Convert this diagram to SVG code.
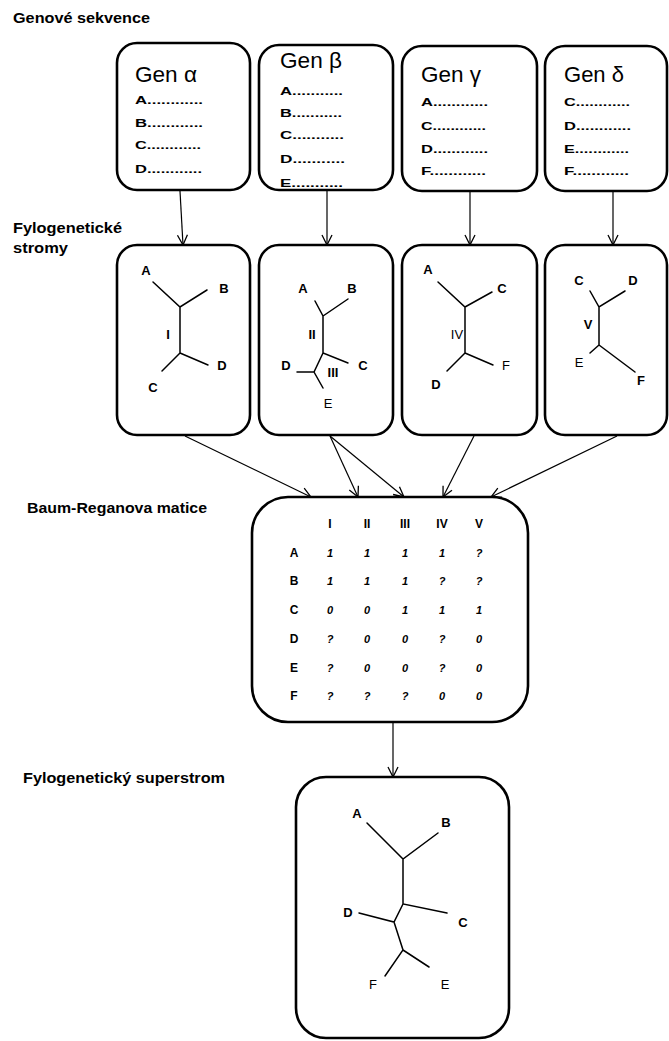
<svg xmlns="http://www.w3.org/2000/svg" width="669" height="1041" viewBox="0 0 669 1041">
  <defs>
    <marker id="arr" viewBox="-1 -6 12 12" markerWidth="12" markerHeight="12" refX="10" refY="0" orient="auto" markerUnits="userSpaceOnUse">
      <path d="M0,-5 L10,0 L0,5" fill="none" stroke="#000" stroke-width="1.3"/>
    </marker>
  </defs>
  <style>
    text { font-family: "Liberation Sans", Arial, sans-serif; fill: #000; }
    .box { fill: #fff; stroke: #000; stroke-width: 2.6; }
    .head { font-size: 15px; font-weight: bold; }
    .gen { font-size: 22px; }
    .item { font-size: 11px; font-weight: bold; }
    .tree { fill: none; stroke: #000; stroke-width: 1.5; stroke-linecap: round; }
    .lb { font-size: 13px; font-weight: bold; text-anchor: middle; }
    .lr { font-size: 13px; text-anchor: middle; }
    .mh { font-size: 12px; font-weight: bold; text-anchor: middle; }
    .mv { font-family: "DejaVu Sans", sans-serif; font-size: 11px; font-weight: bold; font-style: italic; text-anchor: middle; }
    .conn line { stroke: #000; stroke-width: 1.2; marker-end: url(#arr); }
  </style>

  <rect width="669" height="1041" fill="#fff"/>

  <!-- section headings -->
  <g id="headings">
    <text class="head" x="13" y="23" textLength="137" lengthAdjust="spacingAndGlyphs">Genové sekvence</text>
    <text class="head" x="13" y="233" textLength="109" lengthAdjust="spacingAndGlyphs">Fylogenetické</text>
    <text class="head" x="13" y="253" textLength="55" lengthAdjust="spacingAndGlyphs">stromy</text>
    <text class="head" x="27" y="513" textLength="180" lengthAdjust="spacingAndGlyphs">Baum-Reganova matice</text>
    <text class="head" x="23" y="783" textLength="202" lengthAdjust="spacingAndGlyphs">Fylogenetický superstrom</text>
  </g>

  <!-- connectors -->
  <g id="connectors" class="conn">
    <line x1="180" y1="191" x2="183" y2="245"/>
    <line x1="327" y1="191" x2="327" y2="245"/>
    <line x1="470" y1="191" x2="470" y2="245"/>
    <line x1="613" y1="191" x2="613" y2="245"/>
    <line x1="185" y1="436" x2="311" y2="497"/>
    <line x1="330" y1="436" x2="358" y2="497"/>
    <line x1="330" y1="436" x2="404" y2="497"/>
    <line x1="474" y1="436" x2="443" y2="497"/>
    <line x1="617" y1="436" x2="491" y2="497"/>
    <line x1="393" y1="723" x2="393" y2="777"/>
  </g>

  <!-- gene sequence boxes -->
  <g id="gen-alpha">
    <rect class="box" x="117" y="43" width="133" height="147" rx="20"/>
    <text class="gen" x="135" y="82" textLength="62" lengthAdjust="spacingAndGlyphs">Gen α</text>
    <text class="item" x="135" y="104" textLength="68" lengthAdjust="spacingAndGlyphs">A............</text>
    <text class="item" x="135" y="127" textLength="68" lengthAdjust="spacingAndGlyphs">B............</text>
    <text class="item" x="135" y="149" textLength="66" lengthAdjust="spacingAndGlyphs">C............</text>
    <text class="item" x="135" y="173" textLength="67" lengthAdjust="spacingAndGlyphs">D............</text>
  </g>
  <g id="gen-beta">
    <rect class="box" x="259" y="45" width="134" height="145" rx="20"/>
    <text class="gen" x="280" y="68" textLength="62" lengthAdjust="spacingAndGlyphs">Gen β</text>
    <text class="item" x="280" y="95" textLength="63" lengthAdjust="spacingAndGlyphs">A...........</text>
    <text class="item" x="280" y="117" textLength="62" lengthAdjust="spacingAndGlyphs">B...........</text>
    <text class="item" x="280" y="139" textLength="64" lengthAdjust="spacingAndGlyphs">C...........</text>
    <text class="item" x="280" y="163" textLength="65" lengthAdjust="spacingAndGlyphs">D...........</text>
    <text class="item" x="280" y="187" textLength="63" lengthAdjust="spacingAndGlyphs">E...........</text>
  </g>
  <g id="gen-gamma">
    <rect class="box" x="402" y="46" width="135" height="145" rx="20"/>
    <text class="gen" x="421" y="82" textLength="60" lengthAdjust="spacingAndGlyphs">Gen γ</text>
    <text class="item" x="421" y="106" textLength="67" lengthAdjust="spacingAndGlyphs">A............</text>
    <text class="item" x="421" y="130" textLength="65" lengthAdjust="spacingAndGlyphs">C............</text>
    <text class="item" x="421" y="153" textLength="67" lengthAdjust="spacingAndGlyphs">D............</text>
    <text class="item" x="421" y="175" textLength="65" lengthAdjust="spacingAndGlyphs">F............</text>
  </g>
  <g id="gen-delta">
    <rect class="box" x="545" y="46" width="122" height="145" rx="20"/>
    <text class="gen" x="564" y="82" textLength="60" lengthAdjust="spacingAndGlyphs">Gen δ</text>
    <text class="item" x="564" y="106" textLength="66" lengthAdjust="spacingAndGlyphs">C............</text>
    <text class="item" x="564" y="130" textLength="67" lengthAdjust="spacingAndGlyphs">D............</text>
    <text class="item" x="564" y="153" textLength="65" lengthAdjust="spacingAndGlyphs">E............</text>
    <text class="item" x="564" y="175" textLength="65" lengthAdjust="spacingAndGlyphs">F............</text>
  </g>

  <!-- per-gene trees -->
  <g id="tree-alpha">
    <rect class="box" x="117" y="245" width="133" height="190" rx="20"/>
    <path class="tree" d="M153,282 L180,307 L207,290 M180,307 L180,353 L162,371 M180,353 L208,365"/>
    <text class="lb" x="146" y="275">A</text>
    <text class="lb" x="224" y="293">B</text>
    <text class="lb" x="168" y="339">I</text>
    <text class="lb" x="153" y="392">C</text>
    <text class="lb" x="222" y="370">D</text>
  </g>
  <g id="tree-beta">
    <rect class="box" x="259" y="245" width="134" height="190" rx="20"/>
    <path class="tree" d="M315,301 L323,316 L348,299 M323,316 L323,353 L348,363 M323,353 L314,372 L297,372 M314,372 L323,388"/>
    <text class="lb" x="303" y="293">A</text>
    <text class="lb" x="352" y="293">B</text>
    <text class="lb" x="312" y="339">II</text>
    <text class="lb" x="333" y="377">III</text>
    <text class="lb" x="363" y="370">C</text>
    <text class="lb" x="286" y="370">D</text>
    <text class="lr" x="328" y="408">E</text>
  </g>
  <g id="tree-gamma">
    <rect class="box" x="402" y="245" width="135" height="190" rx="20"/>
    <path class="tree" d="M438,282 L465,307 L492,292 M465,307 L465,353 L447,371 M465,353 L493,365"/>
    <text class="lb" x="428" y="274">A</text>
    <text class="lb" x="502" y="293">C</text>
    <text class="lr" x="457" y="339">IV</text>
    <text class="lb" x="436" y="389">D</text>
    <text class="lr" x="506" y="370">F</text>
  </g>
  <g id="tree-delta">
    <rect class="box" x="545" y="245" width="122" height="190" rx="20"/>
    <path class="tree" d="M590,291 L599,307 L625,291 M599,307 L599,345 L590,353 M599,345 L635,372"/>
    <text class="lb" x="579" y="285">C</text>
    <text class="lb" x="633" y="285">D</text>
    <text class="lb" x="588" y="329">V</text>
    <text class="lr" x="579" y="367">E</text>
    <text class="lb" x="641" y="385">F</text>
  </g>

  <!-- Baum-Ragan matrix -->
  <g id="matrix">
    <rect class="box" x="252" y="497" width="276" height="225" rx="36"/>
    <g class="mh">
      <text x="330" y="528">I</text>
      <text x="367" y="528">II</text>
      <text x="405" y="528">III</text>
      <text x="442" y="528">IV</text>
      <text x="479" y="528">V</text>
      <text x="294" y="557">A</text>
      <text x="294" y="585">B</text>
      <text x="294" y="614">C</text>
      <text x="294" y="643">D</text>
      <text x="294" y="672">E</text>
      <text x="294" y="700">F</text>
    </g>
    <g class="mv">
      <text x="330" y="557">1</text><text x="367" y="557">1</text><text x="405" y="557">1</text><text x="442" y="557">1</text><text x="479" y="557">?</text>
      <text x="330" y="585">1</text><text x="367" y="585">1</text><text x="405" y="585">1</text><text x="442" y="585">?</text><text x="479" y="585">?</text>
      <text x="330" y="614">0</text><text x="367" y="614">0</text><text x="405" y="614">1</text><text x="442" y="614">1</text><text x="479" y="614">1</text>
      <text x="330" y="643">?</text><text x="367" y="643">0</text><text x="405" y="643">0</text><text x="442" y="643">?</text><text x="479" y="643">0</text>
      <text x="330" y="672">?</text><text x="367" y="672">0</text><text x="405" y="672">0</text><text x="442" y="672">?</text><text x="479" y="672">0</text>
      <text x="330" y="700">?</text><text x="367" y="700">?</text><text x="405" y="700">?</text><text x="442" y="700">0</text><text x="479" y="700">0</text>
    </g>
  </g>

  <!-- supertree -->
  <g id="supertree">
    <rect class="box" x="296" y="777" width="213" height="261" rx="30"/>
    <path class="tree" d="M367,823 L403,859 L438,833 M403,859 L403,904 L447,913 M403,904 L394,922 L359,913 M394,922 L403,950 L385,976 M403,950 L429,967"/>
    <text class="lb" x="357" y="818">A</text>
    <text class="lb" x="446" y="827">B</text>
    <text class="lb" x="348" y="917">D</text>
    <text class="lb" x="463" y="927">C</text>
    <text class="lr" x="373" y="989">F</text>
    <text class="lr" x="445" y="989">E</text>
  </g>
</svg>
